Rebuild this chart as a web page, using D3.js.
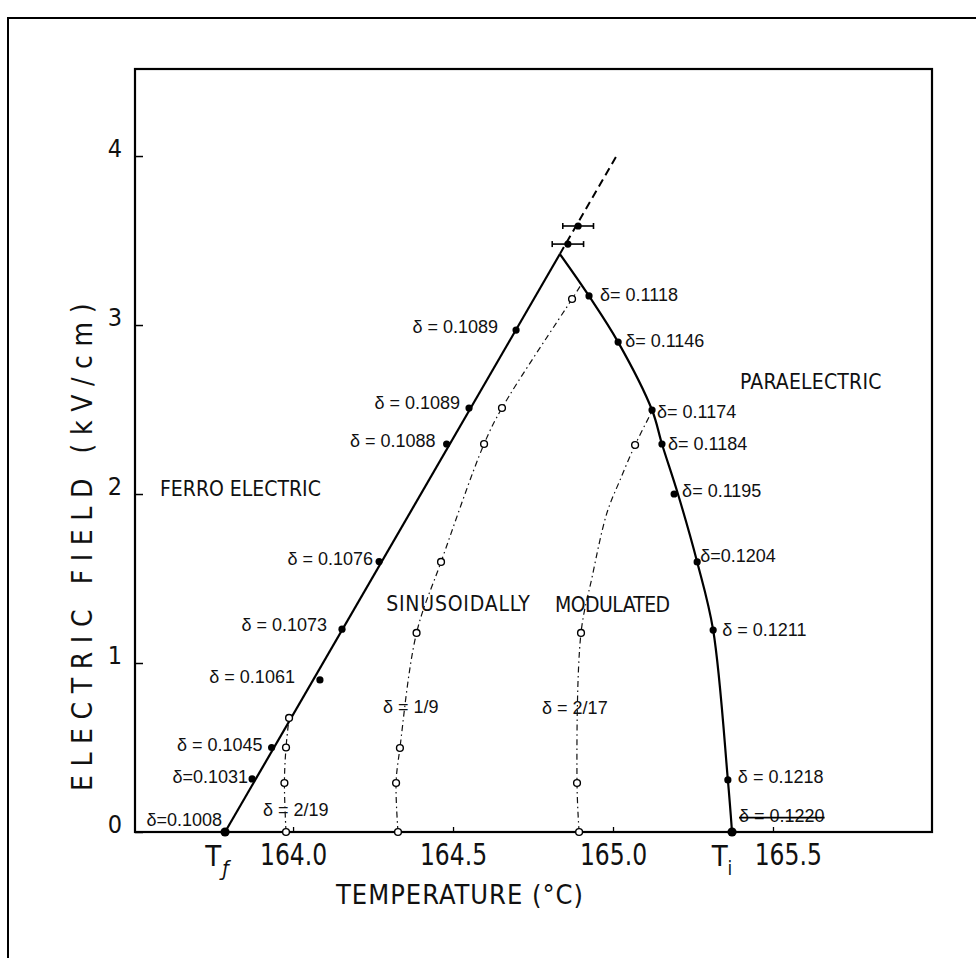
<!DOCTYPE html>
<html>
<head>
<meta charset="utf-8">
<script src="https://cdn.jsdelivr.net/npm/d3@7"></script>
<style>
  body { margin: 0; background: #fff; }
  svg { display: block; }
  text { fill: #111; }
</style>
</head>
<body>
<svg id="chart" width="976" height="958"></svg>
<script>
// ---- axis ticks ----
const tempTicks = [164.0, 164.5, 165.0, 165.5];
const fieldTicks = [0, 1, 2, 3, 4];

// ---- ferroelectric / incommensurate boundary (measured, filled dots) ----
const lowerTemps  = [163.7875, 163.872, 163.933, 164.084, 164.153, 164.269, 164.48, 164.55, 164.697];
const lowerFields = [0, 0.314, 0.5, 0.9, 1.2, 1.6, 2.296, 2.509, 2.97];
const lowerDeltas = ["0.1008", "0.1031", "0.1045", "0.1061", "0.1073", "0.1076", "0.1088", "0.1089", "0.1089"];
const lowerPrefix = ["δ=", "δ=", "δ = ", "δ = ", "δ = ", "δ = ", "δ = ", "δ = ", "δ = "];

// ---- incommensurate / paraelectric boundary (measured, filled dots) ----
const upperTemps  = [164.925, 165.016, 165.122, 165.153, 165.191, 165.263, 165.313, 165.359, 165.372];
const upperFields = [3.172, 2.899, 2.497, 2.296, 2.0, 1.598, 1.195, 0.308, 0];
const upperDeltas = ["0.1118", "0.1146", "0.1174", "0.1184", "0.1195", "0.1204", "0.1211", "0.1218", "0.1220"];
const upperPrefix = ["δ= ", "δ= ", "δ= ", "δ= ", "δ= ", "δ=", "δ = ", "δ = ", "δ = "];

// straight line from T_f to the triple point
const leftLineT = [163.7875, 164.834];
const leftLineE = [0, 3.42];

// smooth boundary from the triple point down to T_i
const rightLineT = [164.834, 164.925, 165.016, 165.122, 165.153, 165.203, 165.263, 165.313, 165.359, 165.372];
const rightLineE = [3.42, 3.172, 2.899, 2.497, 2.296, 2.0, 1.598, 1.195, 0.308, 0];

// extrapolation above the triple point
const extLineT = [164.834, 165.009];
const extLineE = [3.42, 3.994];

// points with temperature error bars
const errTemps  = [164.859, 164.891];
const errFields = [3.479, 3.586];
const errWidths = [0.049, 0.048];

// ---- commensurate lock-in lines (open circles) ----
const c219T = [163.978, 163.973, 163.978, 163.9875];
const c219E = [0, 0.29, 0.5, 0.675];

const c19T = [164.328, 164.322, 164.334, 164.386, 164.4625, 164.597, 164.653, 164.872];
const c19E = [0, 0.29, 0.497, 1.178, 1.598, 2.296, 2.509, 3.154];
const c19LineT = [164.328, 164.322, 164.334, 164.386, 164.4625, 164.597, 164.653, 164.872, 164.9];
const c19LineE = [0, 0.29, 0.497, 1.178, 1.598, 2.296, 2.509, 3.154, 3.237];

const c217T = [164.894, 164.8875, 164.9, 165.069];
const c217E = [0, 0.29, 1.178, 2.29];
const c217LineT = [164.894, 164.8875, 164.9, 164.934, 164.981, 165.022, 165.069, 165.119];
const c217LineE = [0, 0.29, 1.178, 1.503, 1.888, 2.083, 2.29, 2.479];

const commLabels = ["2/19", "1/9", "2/17"];

// ---- phase names ----
const phaseNames  = ["FERRO ELECTRIC", "SINUSOIDALLY", "MODULATED", "PARAELECTRIC"];
const phaseTemps  = [163.584, 164.291, 164.819, 165.397];
const phaseFields = [1.988, 1.308, 1.302, 2.621];

// ---- label placement (pixel offsets from each point) ----
const lowerLabelOffsets = [[-3, -6], [-4, 4], [-9, 3], [-25, 3], [-15, 2], [-6, 3], [-11, 3], [-9, 1], [-18, 3]];
const upperLabelOffsets = [[11, 5], [7, 5], [5, 8], [6, 6], [8, 3], [3, 0], [9, 6], [10, 3], [7, -10]];
const commLabelOffsets  = [[-23, -16], [-15, -119], [-37, -118]];
const phaseSpacing = [0, 0.8, -0.6, 0.2];

// ---- layout ----
const svg = d3.select("#chart");
const X0 = 135, X1 = 932, Y0 = 69, Y1 = 832;

const x = d3.scaleLinear().domain([163.506, 165.997]).range([X0, X1]);
const y = d3.scaleLinear().domain([0, 4.515]).range([Y1, Y0]);

const narrow = "'Liberation Sans Narrow', 'DejaVu Sans Condensed', sans-serif";
const regular = "'Liberation Sans', Arial, sans-serif";

// outer border
svg.append("path")
  .attr("d", `M8,958 L8,18 L976,18`)
  .attr("fill", "none").attr("stroke", "#000").attr("stroke-width", 2);

// plot frame
svg.append("rect")
  .attr("x", X0).attr("y", Y0).attr("width", X1 - X0).attr("height", Y1 - Y0)
  .attr("fill", "none").attr("stroke", "#000").attr("stroke-width", 2.2);

// y axis
const yAxis = svg.append("g").attr("transform", `translate(${X0},0)`)
  .call(d3.axisLeft(y).tickValues(fieldTicks).tickFormat(d3.format("d"))
    .tickSizeInner(-8).tickSizeOuter(0).tickPadding(13));
yAxis.select(".domain").remove();
yAxis.selectAll(".tick line").attr("stroke", "#000").attr("stroke-width", 1.5);
yAxis.selectAll(".tick text").attr("dy", "0").attr("font-family", narrow)
  .attr("font-size", 25).attr("fill", "#111");

// x axis
const xAxis = svg.append("g").attr("transform", `translate(0,${Y1})`)
  .call(d3.axisBottom(x).tickValues(tempTicks).tickFormat(d3.format(".1f"))
    .tickSizeInner(-5).tickSizeOuter(0).tickPadding(12));
xAxis.select(".domain").remove();
xAxis.selectAll(".tick line").attr("stroke", "#000").attr("stroke-width", 1.3);
xAxis.selectAll(".tick text").attr("font-family", narrow)
  .attr("font-size", 30).attr("fill", "#111")
  .attr("transform", "scale(0.87,1)")
  .attr("dx", d => d === 165.5 ? 17 : 0);

// T_f and T_i markers under the axis
const tf = svg.append("text").attr("x", x(lowerTemps[0]) - 8).attr("y", 866)
  .attr("font-family", narrow).attr("font-size", 29).attr("text-anchor", "middle").text("T");
tf.append("tspan").attr("font-size", 21).attr("font-style", "italic").attr("dx", 1).attr("dy", 10).text("ƒ");
const ti = svg.append("text").attr("x", x(upperTemps[8]) - 10).attr("y", 866)
  .attr("font-family", narrow).attr("font-size", 29).attr("text-anchor", "middle").text("T");
ti.append("tspan").attr("font-size", 19).attr("dx", 0).attr("dy", 9).text("i");

// axis titles
svg.append("text")
  .attr("x", x(164.5) + 7).attr("y", 904)
  .attr("text-anchor", "middle").attr("font-family", narrow)
  .attr("font-size", 27).attr("letter-spacing", 1)
  .text("TEMPERATURE (°C)");

svg.append("text")
  .attr("transform", `translate(92,543) rotate(-90)`)
  .attr("text-anchor", "middle").attr("font-family", narrow)
  .attr("font-size", 28).attr("letter-spacing", 8.6)
  .text("ELECTRIC FIELD (kV/cm)");

// line generators
const straight = d3.line().x(d => x(d[0])).y(d => y(d[1]));
const smooth = d3.line().x(d => x(d[0])).y(d => y(d[1])).curve(d3.curveCatmullRom.alpha(0.5));
const zip = (a, b) => a.map((v, i) => [v, b[i]]);

// commensurate lines (dash-dot)
[[c219T, c219E], [c19LineT, c19LineE], [c217LineT, c217LineE]].forEach(([t, e]) => {
  svg.append("path").attr("d", smooth(zip(t, e)))
    .attr("fill", "none").attr("stroke", "#111").attr("stroke-width", 1.2)
    .attr("stroke-dasharray", "6,3.5,1.5,3.5");
});

// phase boundaries
svg.append("path").attr("d", straight(zip(leftLineT, leftLineE)))
  .attr("fill", "none").attr("stroke", "#000").attr("stroke-width", 2.2);
svg.append("path").attr("d", smooth(zip(rightLineT, rightLineE)))
  .attr("fill", "none").attr("stroke", "#000").attr("stroke-width", 2.2);
svg.append("path").attr("d", straight(zip(extLineT, extLineE)))
  .attr("fill", "none").attr("stroke", "#000").attr("stroke-width", 2)
  .attr("stroke-dasharray", "8,5");

// error bars
errTemps.forEach((t, i) => {
  const g = svg.append("g").attr("stroke", "#000").attr("stroke-width", 1.6);
  const yy = y(errFields[i]);
  g.append("line").attr("x1", x(t - errWidths[i])).attr("x2", x(t + errWidths[i])).attr("y1", yy).attr("y2", yy);
  g.append("line").attr("x1", x(t - errWidths[i])).attr("x2", x(t - errWidths[i])).attr("y1", yy - 3).attr("y2", yy + 3);
  g.append("line").attr("x1", x(t + errWidths[i])).attr("x2", x(t + errWidths[i])).attr("y1", yy - 3).attr("y2", yy + 3);
  svg.append("circle").attr("cx", x(t)).attr("cy", yy).attr("r", 3.6).attr("fill", "#000");
});

// open circles
[[c219T, c219E], [c19T, c19E], [c217T, c217E]].forEach(([t, e]) => {
  svg.selectAll(null).data(zip(t, e)).join("circle")
    .attr("cx", d => x(d[0])).attr("cy", d => y(d[1])).attr("r", 3.4)
    .attr("fill", "#fff").attr("stroke", "#000").attr("stroke-width", 1.4);
});

// filled dots
const filled = zip(lowerTemps, lowerFields).concat(zip(upperTemps, upperFields));
svg.selectAll(null).data(filled).join("circle")
  .attr("cx", d => x(d[0])).attr("cy", d => y(d[1]))
  .attr("r", d => d[1] === 0 ? 4.6 : 3.6)
  .attr("fill", "#000");

// delta labels
const labelFont = 18;
lowerDeltas.forEach((s, i) => {
  svg.append("text")
    .attr("x", x(lowerTemps[i]) + lowerLabelOffsets[i][0])
    .attr("y", y(lowerFields[i]) + lowerLabelOffsets[i][1])
    .attr("text-anchor", "end").attr("font-family", regular).attr("font-size", labelFont)
    .text(lowerPrefix[i] + s);
});
upperDeltas.forEach((s, i) => {
  const t = svg.append("text")
    .attr("x", x(upperTemps[i]) + upperLabelOffsets[i][0])
    .attr("y", y(upperFields[i]) + upperLabelOffsets[i][1])
    .attr("text-anchor", "start").attr("font-family", regular).attr("font-size", labelFont)
    .text(upperPrefix[i] + s);
  if (i === upperDeltas.length - 1) {
    // struck-out value at T_i
    const bb = t.node().getBBox();
    svg.append("line").attr("x1", bb.x).attr("x2", bb.x + bb.width)
      .attr("y1", bb.y + bb.height * 0.58).attr("y2", bb.y + bb.height * 0.58)
      .attr("stroke", "#000").attr("stroke-width", 1.6);
  }
});
[[c219T[0], c219E[0]], [c19T[0], c19E[0]], [c217T[0], c217E[0]]].forEach((p, i) => {
  svg.append("text")
    .attr("x", x(p[0]) + commLabelOffsets[i][0])
    .attr("y", y(p[1]) + commLabelOffsets[i][1])
    .attr("font-family", regular).attr("font-size", labelFont)
    .text("δ = " + commLabels[i]);
});

// phase names
phaseNames.forEach((n, i) => {
  svg.append("text")
    .attr("x", x(phaseTemps[i])).attr("y", y(phaseFields[i]))
    .attr("font-family", narrow).attr("font-size", 21)
    .attr("letter-spacing", phaseSpacing[i])
    .text(n);
});
</script>
</body>
</html>
